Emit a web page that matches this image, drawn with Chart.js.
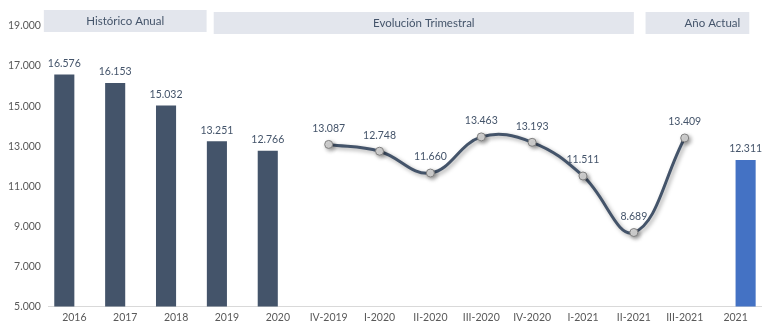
<!DOCTYPE html>
<html>
<head>
<meta charset="utf-8">
<script src="https://cdn.jsdelivr.net/npm/chart.js@4"></script>
<style>
  html, body { margin: 0; padding: 0; background: #fff; overflow: hidden; }
  #wrap { width: 766px; height: 326px; position: relative; }
  canvas { display: block; }
</style>
</head>
<body>
<div id="wrap"><canvas id="chart"></canvas></div>
<script>
// Annual history, quarterly evolution and current year
const annualLabels = ['2016', '2017', '2018', '2019', '2020'];
const annualValues = [16576, 16153, 15032, 13251, 12766];
const quarterLabels = ['IV-2019', 'I-2020', 'II-2020', 'III-2020', 'IV-2020', 'I-2021', 'II-2021', 'III-2021'];
const quarterValues = [13087, 12748, 11660, 13463, 13193, 11511, 8689, 13409];
const currentLabels = ['2021'];
const currentValues = [12311];

const yTicks = [5000, 7000, 9000, 11000, 13000, 15000, 17000, 19000];

// section headers: [text, from category, to category, align, vertical shift]
const sections = [
  ['Histórico Anual', -0.6, 2.6, 'center', 0],
  ['Evolución Trimestral', 2.74, 11.0, 'center', 2],
  ['Año Actual', 11.23, 13.27, 'right', 2]
];

const labels = [...annualLabels, ...quarterLabels, ...currentLabels];
const nA = annualValues.length, nQ = quarterValues.length;
const pad = (n) => Array(n).fill(null);

const annualData = [...annualValues, ...pad(nQ), null];
const quarterData = [...pad(nA), ...quarterValues, null];
const currentData = [...pad(nA + nQ), ...currentValues];

const TEXT = '#44546a';
const FONT = 'Lato, "Open Sans", sans-serif';

function fmt(v) {
  return String(Math.round(v)).replace(/\B(?=(\d{3})+(?!\d))/g, '.');
}

// draws value labels above bars and points
const valueLabels = {
  id: 'valueLabels',
  afterDatasetsDraw(chart) {
    const ctx = chart.ctx;
    ctx.save();
    ctx.font = '10.5px ' + FONT;
    ctx.fillStyle = TEXT;
    ctx.textAlign = 'center';
    ctx.textBaseline = 'middle';
    chart.data.datasets.forEach((ds, i) => {
      const meta = chart.getDatasetMeta(i);
      meta.data.forEach((el, j) => {
        const v = ds.data[j];
        if (v == null) return;
        const off = ds.type === 'line' ? 16 : 11;
        ctx.fillText(fmt(v), el.x, el.y - off);
      });
    });
    ctx.restore();
  }
};

// grey header boxes over the three groups
const headers = {
  id: 'headers',
  afterDraw(chart) {
    const ctx = chart.ctx;
    const x = chart.scales.x;
    const w = x.getPixelForValue(1) - x.getPixelForValue(0);
    const x0 = x.getPixelForValue(0);
    const h = 22;
    ctx.save();
    ctx.font = '11.5px ' + FONT;
    ctx.textBaseline = 'middle';
    sections.forEach(([text, a, b, align, dy]) => {
      const l = x0 + a * w;
      const r = x0 + b * w;
      const top = chart.chartArea.top - 16 + dy;
      ctx.fillStyle = '#e3e6ed';
      ctx.fillRect(l, top, r - l, h);
      ctx.fillStyle = TEXT;
      ctx.textAlign = align;
      ctx.fillText(text, align === 'right' ? r - 9 : (l + r) / 2, top + h / 2);
    });
    ctx.restore();
  }
};

// soft drop shadow under the quarterly line
const lineShadow = {
  id: 'lineShadow',
  beforeDatasetDraw(chart, args) {
    if (args.meta.type !== 'line') return;
    const ctx = chart.ctx;
    ctx.save();
    ctx.shadowColor = 'rgba(0,0,0,0.35)';
    ctx.shadowBlur = 4;
    ctx.shadowOffsetX = 2;
    ctx.shadowOffsetY = 2;
  },
  afterDatasetDraw(chart, args) {
    if (args.meta.type !== 'line') return;
    chart.ctx.restore();
  }
};

new Chart(document.getElementById('chart'), {
  data: {
    labels: labels,
    datasets: [
      {
        type: 'line',
        data: quarterData,
        borderColor: TEXT,
        borderWidth: 3,
        tension: 0.4,
        pointRadius: 4,
        pointBackgroundColor: '#d6d6d6',
        pointBorderColor: '#7f7f7f',
        pointBorderWidth: 1,
        order: 0
      },
      {
        type: 'bar',
        data: annualData,
        backgroundColor: TEXT,
        barPercentage: 1,
        categoryPercentage: 0.79,
        order: 1
      },
      {
        type: 'bar',
        data: currentData,
        backgroundColor: '#4472c4',
        barPercentage: 1,
        categoryPercentage: 0.79,
        order: 1
      }
    ]
  },
  options: {
    responsive: true,
    maintainAspectRatio: false,
    animation: false,
    layout: { padding: { top: 26, right: 0, left: 0, bottom: -3 } },
    plugins: {
      legend: { display: false },
      tooltip: { enabled: false }
    },
    scales: {
      x: {
        afterFit(scale) { scale.paddingRight = 0; },
        grid: { display: false, drawTicks: false },
        border: { display: true, color: '#d9d9d9', width: 1 },
        ticks: { color: '#595959', font: { family: FONT, size: 10.5 }, maxRotation: 0, autoSkip: false, padding: 5 }
      },
      y: {
        min: 5000,
        max: 19000,
        afterBuildTicks(axis) { axis.ticks = yTicks.map(v => ({ value: v })); },
        grid: { display: false, drawTicks: false },
        border: { display: false },
        ticks: { color: '#595959', font: { family: FONT, size: 10.5 }, padding: 8, callback: (v) => fmt(v) }
      }
    }
  },
  plugins: [valueLabels, headers, lineShadow]
});
</script>
</body>
</html>
